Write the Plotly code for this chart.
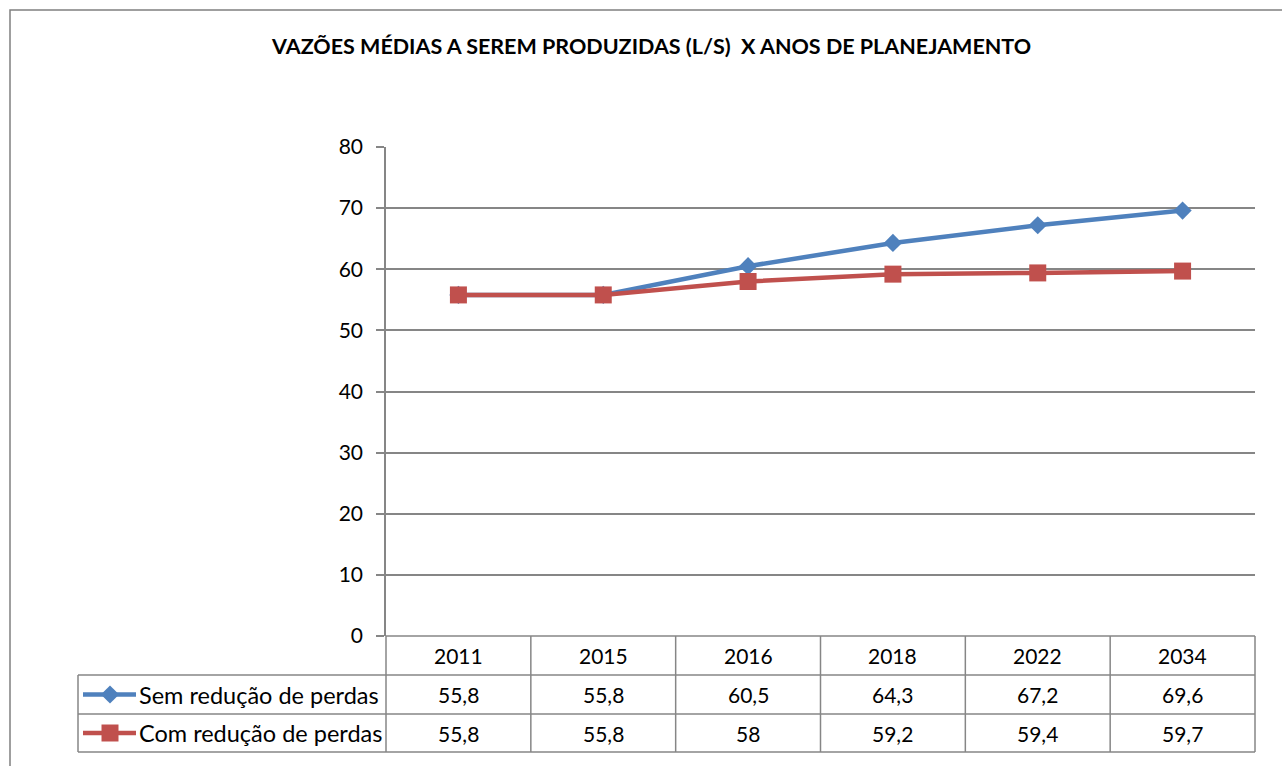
import plotly.graph_objects as go

years = ["2011", "2015", "2016", "2018", "2022", "2034"]
sem_reducao = [55.8, 55.8, 60.5, 64.3, 67.2, 69.6]
com_reducao = [55.8, 55.8, 58.0, 59.2, 59.4, 59.7]
series_names = ["Sem redução de perdas", "Com redução de perdas"]
series_values = [sem_reducao, com_reducao]
series_colors = ["#4F81BD", "#C0504D"]
series_symbols = ["diamond", "square"]
series_sizes = [14, 17]
title_text = "VAZÕES MÉDIAS A SEREM PRODUZIDAS (L/S)  X ANOS DE PLANEJAMENTO"

W, H = 1282, 766
FONT = "Lato"
GRID = "#868686"

# pixel layout
px_left, px_right = 386, 1255
py_top, py_bottom = 147, 636
row_edges = [636, 675, 714, 752]
legend_left = 78

def fx(x):
    return x / W

def fy(y):
    return 1 - y / H

fig = go.Figure()

for name, vals, col, sym, sz in zip(series_names, series_values, series_colors, series_symbols, series_sizes):
    fig.add_trace(go.Scatter(
        x=years, y=vals, mode="lines+markers", name=name,
        line=dict(color=col, width=4.5),
        marker=dict(symbol=sym, size=sz, color=col),
        xaxis="x", yaxis="y", showlegend=False, cliponaxis=False,
    ))

# legend symbols inside the table (full-page pixel axes)
for i, (col, sym, sz) in enumerate(zip(series_colors, series_symbols, series_sizes)):
    yc = (row_edges[i + 1] + row_edges[i + 2]) / 2
    fig.add_trace(go.Scatter(
        x=[83, 110, 136], y=[yc, yc, yc], mode="lines",
        line=dict(color=col, width=4.5), xaxis="x2", yaxis="y2",
        showlegend=False, hoverinfo="skip",
    ))
    fig.add_trace(go.Scatter(
        x=[110], y=[yc], mode="markers",
        marker=dict(symbol=sym, size=sz, color=col), xaxis="x2", yaxis="y2",
        showlegend=False, hoverinfo="skip",
    ))

shapes = []
# outer chart border
shapes.append(dict(type="rect", xref="paper", yref="paper",
                   x0=fx(10), x1=fx(1290), y0=fy(780), y1=fy(10),
                   line=dict(color="#808080", width=1.5)))
# table horizontal lines
for k, ry in enumerate(row_edges):
    x0 = px_left if k == 0 else legend_left
    shapes.append(dict(type="line", xref="paper", yref="paper",
                       x0=fx(x0), x1=fx(px_right), y0=fy(ry), y1=fy(ry),
                       line=dict(color=GRID, width=1.5)))
# table vertical lines
ncol = len(years)
cw = (px_right - px_left) / ncol
for k in range(1, ncol + 1):
    xx = px_left + cw * k
    shapes.append(dict(type="line", xref="paper", yref="paper",
                       x0=fx(xx), x1=fx(xx), y0=fy(row_edges[0]), y1=fy(row_edges[-1]),
                       line=dict(color=GRID, width=1.5)))
shapes.append(dict(type="line", xref="paper", yref="paper",
                   x0=fx(px_left), x1=fx(px_left), y0=fy(row_edges[0]), y1=fy(row_edges[-1]),
                   line=dict(color=GRID, width=1.5)))
shapes.append(dict(type="line", xref="paper", yref="paper",
                   x0=fx(legend_left), x1=fx(legend_left), y0=fy(row_edges[1]), y1=fy(row_edges[-1]),
                   line=dict(color=GRID, width=1.5)))

annotations = []
annotations.append(dict(text="<b>" + title_text + "</b>", xref="paper", yref="paper",
                        x=fx(651), y=fy(46), showarrow=False, xanchor="center", yanchor="middle",
                        font=dict(family=FONT, size=21.5, color="black")))
# header row
for j, yr in enumerate(years):
    annotations.append(dict(text=yr, xref="x", yref="paper", x=j,
                            y=fy((row_edges[0] + row_edges[1]) / 2), showarrow=False,
                            xanchor="center", yanchor="middle",
                            font=dict(family=FONT, size=21, color="black")))
# data rows
for i, (name, vals) in enumerate(zip(series_names, series_values)):
    yc = (row_edges[i + 1] + row_edges[i + 2]) / 2
    annotations.append(dict(text=name, xref="paper", yref="paper", x=fx(137), y=fy(yc),
                            showarrow=False, xanchor="left", yanchor="middle",
                            font=dict(family=FONT, size=23.5, color="black")))
    for j, v in enumerate(vals):
        s = ("%g" % v).replace(".", ",")
        annotations.append(dict(text=s, xref="x", yref="paper", x=j, y=fy(yc),
                                showarrow=False, xanchor="center", yanchor="middle",
                                font=dict(family=FONT, size=21, color="black")))

fig.update_layout(
    template="none",
    width=W, height=H, margin=dict(l=0, r=0, t=0, b=0, pad=0, autoexpand=False),
    paper_bgcolor="white", plot_bgcolor="rgba(0,0,0,0)",
    xaxis=dict(domain=[fx(px_left), fx(px_right)], type="category", range=[-0.5, ncol - 0.5],
               showticklabels=False, showgrid=False, zeroline=False, showline=False, ticks="",
               anchor="y"),
    yaxis=dict(domain=[fy(py_bottom), fy(py_top)], range=[0, 80], dtick=10,
               showgrid=True, gridcolor=GRID, gridwidth=1.5, zeroline=False,
               showline=True, linecolor=GRID, linewidth=1.5,
               ticks="outside", ticklen=8, tickcolor=GRID, tickwidth=1.5,
               ticklabelstandoff=9, anchor="x",
               tickfont=dict(family=FONT, size=21, color="black")),
    xaxis2=dict(domain=[0, 1], range=[0, W], visible=False, anchor="y2", fixedrange=True),
    yaxis2=dict(domain=[0, 1], range=[H, 0], visible=False, anchor="x2", fixedrange=True),
    shapes=shapes, annotations=annotations,
)

fig.write_html("out.html", config={"displayModeBar": False},
               post_script="document.body.style.margin='0px';")
